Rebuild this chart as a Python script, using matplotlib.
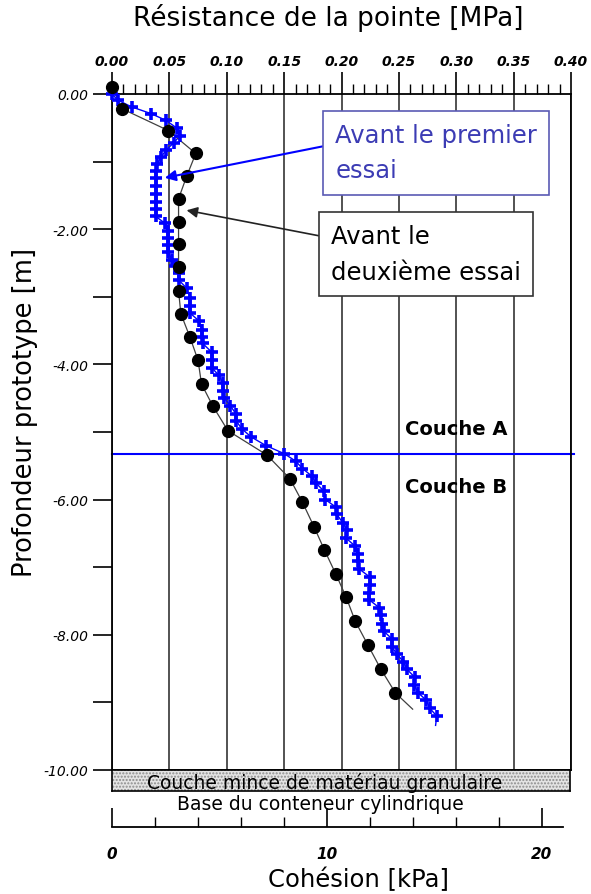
import numpy as np
import matplotlib
matplotlib.use('Agg')
import matplotlib.pyplot as plt
from matplotlib.patches import Rectangle

# Résistance de la pointe (MPa) vs profondeur (m) - avant le premier essai (bleu)
blue_mpa = [0.000, 0.005, 0.017, 0.034, 0.047, 0.057, 0.059, 0.054, 0.047, 0.043, 0.039,
            0.038, 0.038, 0.038, 0.038, 0.038, 0.038, 0.038, 0.046, 0.049, 0.049, 0.049,
            0.049, 0.052, 0.055, 0.058, 0.058, 0.065, 0.068, 0.068, 0.068, 0.076, 0.078,
            0.078, 0.079, 0.087, 0.087, 0.087, 0.093, 0.097, 0.097, 0.098, 0.103, 0.108,
            0.108, 0.113, 0.121, 0.134, 0.150, 0.160, 0.166, 0.174, 0.178, 0.185, 0.186,
            0.195, 0.196, 0.201, 0.205, 0.204, 0.212, 0.214, 0.214, 0.215, 0.225, 0.225,
            0.224, 0.224, 0.233, 0.234, 0.235, 0.237, 0.244, 0.244, 0.248, 0.254, 0.257,
            0.264, 0.263, 0.267, 0.274, 0.277, 0.283]
blue_depth = [0.00, -0.09, -0.19, -0.29, -0.39, -0.51, -0.62, -0.72, -0.83, -0.93, -1.04,
              -1.14, -1.24, -1.36, -1.48, -1.60, -1.70, -1.81, -1.91, -2.03, -2.13, -2.23,
              -2.33, -2.45, -2.55, -2.65, -2.75, -2.87, -3.02, -3.14, -3.24, -3.36, -3.49,
              -3.59, -3.69, -3.82, -3.94, -4.05, -4.16, -4.28, -4.40, -4.50, -4.61, -4.73,
              -4.83, -4.95, -5.07, -5.20, -5.32, -5.43, -5.54, -5.65, -5.76, -5.88, -6.00,
              -6.11, -6.22, -6.34, -6.45, -6.57, -6.69, -6.80, -6.91, -7.02, -7.15, -7.26,
              -7.38, -7.48, -7.60, -7.71, -7.84, -7.95, -8.06, -8.18, -8.28, -8.40, -8.51,
              -8.63, -8.74, -8.86, -8.97, -9.09, -9.20]
blue_tail = (0.282, -9.34)

# avant le deuxième essai (noir)
black_mpa = [0.000, 0.009, 0.049, 0.073, 0.065, 0.058, 0.058, 0.058, 0.058, 0.058, 0.060,
             0.068, 0.075, 0.078, 0.088, 0.101, 0.135, 0.155, 0.166, 0.176, 0.185, 0.195,
             0.204, 0.212, 0.223, 0.234, 0.247]
black_depth = [0.10, -0.22, -0.54, -0.88, -1.22, -1.55, -1.90, -2.22, -2.56, -2.91, -3.25,
               -3.60, -3.94, -4.29, -4.62, -4.98, -5.34, -5.69, -6.04, -6.40, -6.74, -7.10,
               -7.44, -7.80, -8.15, -8.50, -8.86]
black_tail = (0.262, -9.10)

layer_depth = -5.33
mpa_ticks = np.arange(0, 0.401, 0.05)
depth_ticks = np.arange(-10, 0.1, 2)
kpa_ticks = [0, 10, 20]

W, H = 591, 895
fig = plt.figure(figsize=(W / 100, H / 100), dpi=100)

# main axes (pixel box 112..571 x 95..771)
ax = fig.add_axes([112 / W, 1 - 771 / H, (571 - 112) / W, (771 - 95) / H])
ax.set_xlim(0, 0.40)
ax.set_ylim(-10, 0)

ax.xaxis.set_ticks_position('top')
ax.set_xticks(mpa_ticks)
ax.set_xticks(np.arange(0, 0.401, 0.01), minor=True)
ax.set_xticklabels(['%.2f' % v for v in mpa_ticks], fontsize=10,
                   fontweight='bold', fontstyle='italic')
ax.tick_params(axis='x', which='major', direction='out', length=16, width=1.2, pad=3)
ax.tick_params(axis='x', which='minor', direction='out', length=7, width=1)
ax.grid(axis='x', which='major', color='#444444', lw=1.3)

ax.set_yticks(depth_ticks)
ax.set_yticks(np.arange(-9, 0, 2), minor=True)
ax.set_yticklabels(['%.2f' % v for v in depth_ticks], fontsize=10, fontstyle='italic')
ax.tick_params(axis='y', which='both', direction='out', length=14, width=1.2, pad=3)
for s in ax.spines.values():
    s.set_linewidth(1.3)

# courbes
ax.plot(blue_mpa + [blue_tail[0]], blue_depth + [blue_tail[1]], color='blue', lw=1,
        zorder=3, clip_on=False)
ax.plot(blue_mpa, blue_depth, ls='none', marker='+', ms=8, mew=2.6, color='blue',
        zorder=4, clip_on=False)
ax.plot(black_mpa + [black_tail[0]], black_depth + [black_tail[1]], color='#404040',
        lw=0.9, zorder=3, clip_on=False)
ax.plot(black_mpa, black_depth, ls='none', marker='o', ms=8.5, color='black',
        zorder=5, clip_on=False)

# limite de couches
ax.plot([0, 0.403], [layer_depth, layer_depth], color='blue', lw=1.5, zorder=2, clip_on=False)
ax.text(0.255, layer_depth + 0.38, 'Couche A', fontsize=14, fontweight='bold', va='center')
ax.text(0.255, layer_depth - 0.48, 'Couche B', fontsize=14, fontweight='bold', va='center')

# étiquettes avec flèches
ax.annotate('Avant le premier\nessai', xy=(0.046, -1.24), xytext=(0.1946, -0.43),
            fontsize=17.5, color='#3c3cb4', ha='left', va='top', linespacing=1.6,
            bbox=dict(boxstyle='square,pad=0.5', fc='white', ec='#5a5ab4', lw=1.2),
            arrowprops=dict(arrowstyle='-|>', color='blue', lw=1.5, mutation_scale=16,
                            relpos=(0, 0.65), shrinkA=0, shrinkB=0), zorder=6)
ax.annotate('Avant le\ndeuxième essai', xy=(0.065, -1.72), xytext=(0.191, -1.93),
            fontsize=17.5, color='black', ha='left', va='top', linespacing=1.6,
            bbox=dict(boxstyle='square,pad=0.5', fc='white', ec='#333333', lw=1.2),
            arrowprops=dict(arrowstyle='-|>', color='#222222', lw=1.2, mutation_scale=16,
                            relpos=(0, 0.77), shrinkA=0, shrinkB=0), zorder=6)

# couche mince (bande hachurée)
band = fig.add_axes([112 / W, 1 - 792 / H, (570 - 112) / W, 21 / H])
band.set_xticks([])
band.set_yticks([])
band.add_patch(Rectangle((0, 0), 1, 1, transform=band.transAxes, facecolor='#e4e4e4',
                         edgecolor='#8c8c8c', hatch='.....', lw=0))
band.text(0.465, 0.45, 'Couche mince de matériau granulaire', fontsize=13.5,
          ha='center', va='center', transform=band.transAxes)
for s in band.spines.values():
    s.set_linewidth(1.2)

fig.text(320 / W, 1 - 804 / H, 'Base du conteneur cylindrique', fontsize=13.5,
         ha='center', va='center')

# axe de cohésion (kPa)
axc = fig.add_axes([112 / W, 1 - 828 / H, (563 - 112) / W, 0.03])
axc.set_xlim(0, 21)
axc.patch.set_alpha(0)
for side in ['top', 'left', 'right']:
    axc.spines[side].set_visible(False)
axc.spines['bottom'].set_linewidth(1.3)
axc.set_yticks([])
axc.set_xticks(kpa_ticks)
axc.set_xticks(np.arange(0, 21, 2), minor=True)
axc.set_xticklabels([str(v) for v in kpa_ticks], fontsize=11, fontweight='bold',
                    fontstyle='italic')
axc.tick_params(axis='x', which='major', direction='in', length=14, width=1.2, pad=14)
axc.tick_params(axis='x', which='minor', direction='in', length=7, width=1)

fig.text(358 / W, 1 - 880 / H, 'Cohésion [kPa]', fontsize=17.5, ha='center', va='center')
fig.text(328 / W, 1 - 18 / H, 'Résistance de la pointe [MPa]', fontsize=19,
         ha='center', va='center')
fig.text(25 / W, 1 - 412 / H, 'Profondeur prototype [m]', fontsize=18.5, rotation=90,
         ha='center', va='center')

fig.savefig('out.png', dpi=100, facecolor='white')
